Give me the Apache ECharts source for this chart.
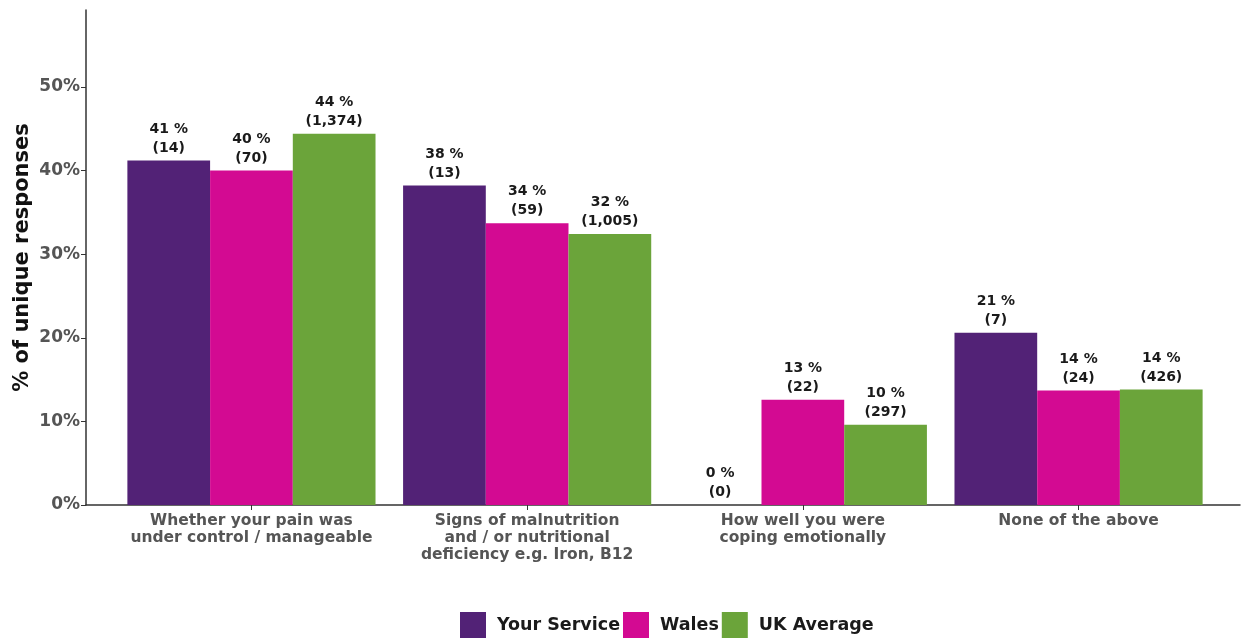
<!DOCTYPE html>
<html>
<head>
<meta charset="utf-8">
<script src="https://cdn.jsdelivr.net/npm/echarts@6/dist/echarts.min.js"></script>
<style>html,body{margin:0;padding:0;background:#fff;}#c{width:1241px;height:639px;}</style>
</head>
<body>
<div id="c"></div>
<script>
var categories = [
  'Whether your pain was\nunder control / manageable',
  'Signs of malnutrition\nand / or nutritional\ndeficiency e.g. Iron, B12',
  'How well you were\ncoping emotionally',
  'None of the above'
];
var seriesNames = ['Your Service', 'Wales', 'UK Average'];
var yourService = [41.2, 38.2, 0, 20.6];
var wales = [40.0, 33.7, 12.6, 13.7];
var ukAverage = [44.4, 32.4, 9.6, 13.8];
var yourServiceN = [14, 13, 0, 7];
var walesN = [70, 59, 22, 24];
var ukAverageN = [1374, 1005, 297, 426];
var yTicks = [0, 10, 20, 30, 40, 50];
var yMax = 59.2;

var colors = ['#522276', '#d30a92', '#6ba43a'];
var FONT = '"DejaVu Sans", sans-serif';

function mkSeries(name, vals, counts, color) {
  return {
    name: name, type: 'bar', xAxisIndex: 1, yAxisIndex: 1,
    data: vals, barGap: '0%', barCategoryGap: '10%',
    itemStyle: { color: color },
    label: {
      show: true, position: 'top', distance: 3,
      fontFamily: FONT, fontSize: 14, fontWeight: 'bold', color: '#1a1a1a',
      lineHeight: 19, align: 'center',
      formatter: function (p) {
        return Math.round(p.value) + ' %\n(' + counts[p.dataIndex].toLocaleString('en-US') + ')';
      }
    }
  };
}

var chart = echarts.init(document.getElementById('c'));
chart.setOption({
  animation: false,
  textStyle: { fontFamily: FONT },
  grid: [
    { left: 86, right: 1, top: 10, bottom: 134, outerBoundsMode: 'none' },
    { left: 113.6, right: 24.6, top: 10, bottom: 134, outerBoundsMode: 'none' }
  ],
  xAxis: [
    { gridIndex: 0, type: 'value', min: 0, max: 1,
      axisLine: { show: true, lineStyle: { color: '#333', width: 1.5 } },
      axisTick: { show: false }, axisLabel: { show: false }, splitLine: { show: false } },
    { gridIndex: 1, type: 'category', data: categories,
      axisLine: { show: false },
      axisTick: { show: true, alignWithLabel: true, length: 5, lineStyle: { color: '#333' } },
      axisLabel: { interval: 0, fontFamily: FONT, fontSize: 15.5, fontWeight: 'bold', color: '#555', lineHeight: 17, margin: 7 } }
  ],
  yAxis: [
    { gridIndex: 0, type: 'value', min: 0, max: yMax,
      name: '% of unique responses', nameLocation: 'middle', nameGap: 53, nameMoveOverlap: false,
      nameTextStyle: { fontFamily: FONT, fontSize: 21, fontWeight: 'bold', color: '#111' },
      axisLine: { show: true, lineStyle: { color: '#333', width: 1.5 } },
      axisTick: { show: true, length: 5, customValues: yTicks, lineStyle: { color: '#333' } },
      axisLabel: { customValues: yTicks, fontFamily: FONT, fontSize: 17, fontWeight: 'bold', color: '#555', margin: 6,
        formatter: function (v) { return Math.round(v) + '%'; } },
      splitLine: { show: false } },
    { gridIndex: 1, type: 'value', min: 0, max: yMax, show: false }
  ],
  legend: {
    data: seriesNames, top: 612, left: 460, icon: 'rect', padding: 0,
    itemWidth: 26, itemHeight: 26, itemGap: 3,
    textStyle: { fontFamily: FONT, fontSize: 17.5, fontWeight: 'bold', color: '#1a1a1a', padding: [0, 0, 0, 6] }
  },
  series: [
    mkSeries(seriesNames[0], yourService, yourServiceN, colors[0]),
    mkSeries(seriesNames[1], wales, walesN, colors[1]),
    mkSeries(seriesNames[2], ukAverage, ukAverageN, colors[2])
  ]
});
</script>
</body>
</html>
